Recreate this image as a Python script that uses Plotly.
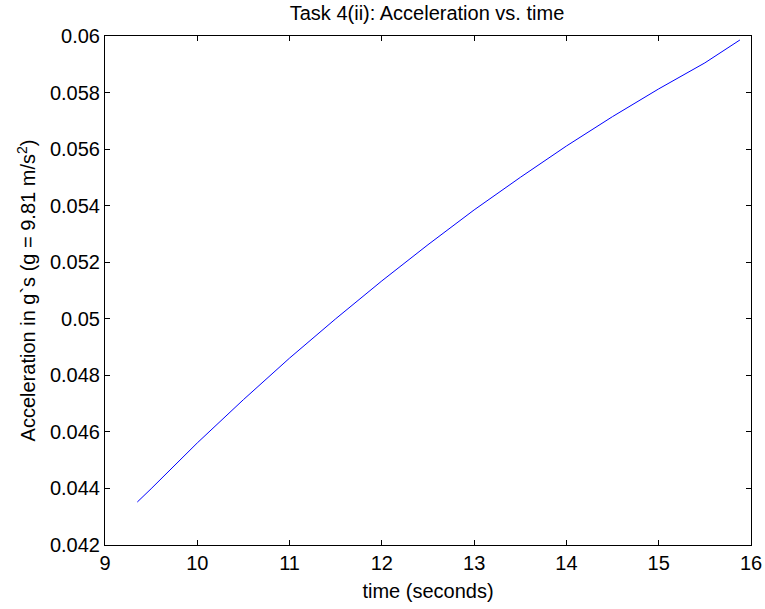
import plotly.graph_objects as go

# Data
time_s = [9.35, 9.5, 10.0, 10.5, 11.0, 11.5, 12.0, 12.5, 13.0, 13.5, 14.0, 14.5, 15.0, 15.5, 15.88]
accel_g = [0.04352, 0.04399, 0.04561, 0.04714, 0.04861, 0.05000, 0.05134, 0.05262,
           0.05385, 0.05500, 0.05611, 0.05715, 0.05813, 0.05905, 0.05986]

x_ticks = [9, 10, 11, 12, 13, 14, 15, 16]
y_ticks = [0.042, 0.044, 0.046, 0.048, 0.05, 0.052, 0.054, 0.056, 0.058, 0.06]
y_tick_text = ["0.042", "0.044", "0.046", "0.048", "0.05", "0.052", "0.054", "0.056", "0.058", "0.06"]

FONT = "Liberation Sans, Arial, sans-serif"
FS = 20

fig = go.Figure()
fig.add_trace(go.Scatter(x=time_s, y=accel_g, mode="lines",
                         line=dict(color="#0000ff", width=1),
                         showlegend=False, hoverinfo="skip"))

axis_common = dict(showgrid=False, zeroline=False, showline=True, linecolor="black",
                   linewidth=1, mirror="allticks", ticks="inside", ticklen=5,
                   tickcolor="black", automargin=False,
                   tickfont=dict(family=FONT, size=FS, color="black"))

fig.update_layout(
    width=765, height=609,
    margin=dict(l=105, r=14, t=36, b=64),
    paper_bgcolor="white", plot_bgcolor="white",
    title=dict(text="Task 4(ii): Acceleration vs. time", x=427 / 765, xanchor="center",
               y=1 - 13 / 609, yanchor="middle",
               font=dict(family=FONT, size=FS, color="black")),
    xaxis=dict(range=[9, 16], tickvals=x_ticks, ticktext=[str(v) for v in x_ticks],
               title=dict(text="time (seconds)", font=dict(family=FONT, size=FS, color="black"),
                          standoff=10),
               **axis_common),
    yaxis=dict(range=[0.042, 0.06], tickvals=y_ticks, ticktext=y_tick_text,
               title=dict(text="Acceleration in g`s (g = 9.81 m/s<sup>2</sup>)",
                          font=dict(family=FONT, size=FS, color="black"), standoff=8),
               **axis_common),
)

fig.write_html("out.html")
